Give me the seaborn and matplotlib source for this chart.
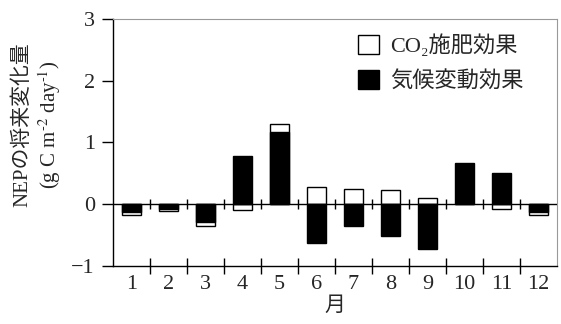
import pandas as pd
import seaborn as sns
import matplotlib.pyplot as plt
from matplotlib.patches import Patch

months = ["1", "2", "3", "4", "5", "6", "7", "8", "9", "10", "11", "12"]
co2_effect = [-0.05, -0.04, -0.06, -0.10, 0.13, 0.27, 0.24, 0.23, 0.10, 0.00, -0.085, -0.05]
climate_effect = [-0.13, -0.08, -0.29, 0.78, 1.16, -0.64, -0.355, -0.52, -0.73, 0.66, 0.50, -0.13]
yticks = [-1, 0, 1, 2, 3]

# white bar is stacked on the black one when both have the same sign
stacked = [c + k if c * k > 0 else c for c, k in zip(co2_effect, climate_effect)]
df = pd.DataFrame({"月": months, "co2": stacked, "climate": climate_effect})

sns.set_style("ticks")
plt.rcParams["font.family"] = ["Liberation Serif", "Noto Sans CJK JP", "DejaVu Sans"]
plt.rcParams["mathtext.fontset"] = "stix"

fig, ax = plt.subplots(figsize=(5.61, 3.24), dpi=100)
fig.subplots_adjust(left=0.2014, right=0.9929, top=0.9414, bottom=0.18)

sns.barplot(data=df, x="月", y="co2", color="white", edgecolor="black",
            linewidth=1, width=0.52, saturation=1, ax=ax, zorder=2)
sns.barplot(data=df, x="月", y="climate", color="black", edgecolor="black",
            linewidth=1, width=0.52, saturation=1, ax=ax, zorder=3)

ax.axhline(0, color="black", lw=1, zorder=4)
bounds = [i + 0.5 for i in range(len(months) - 1)]
ax.vlines(bounds, -0.075, 0.075, color="black", lw=1, zorder=4)

ax.set_xlim(-0.5, len(months) - 0.5)
ax.set_ylim(-1, 3)
ax.set_yticks(yticks)
ax.set_yticklabels([str(v) if v >= 0 else "\u2212" + str(-v) for v in yticks])
ax.set_xticks(bounds, minor=True)
ax.tick_params(axis="x", which="major", length=0, pad=7, labelsize=16)
ax.tick_params(axis="x", which="minor", direction="inout", length=12, width=1, color="black")
ax.tick_params(axis="y", direction="out", length=8, width=1, pad=5, labelsize=16, color="black")

for side in ["top", "right"]:
    ax.spines[side].set_color("#999999")
    ax.spines[side].set_linewidth(0.8)
for side in ["left", "bottom"]:
    ax.spines[side].set_color("black")
    ax.spines[side].set_linewidth(1)

ax.set_xlabel("月", fontsize=15, labelpad=2)
ax.set_ylabel("NEPの将来変化量\n(g C m$^{\\text{-2}}$ day$^{\\text{-1}}$)", fontsize=15,
              linespacing=1.2)
ax.yaxis.set_label_coords(-0.113, 0.57)

handles = [Patch(facecolor="white", edgecolor="black", lw=1, label="CO\u2082施肥効果"),
           Patch(facecolor="black", edgecolor="black", lw=1, label="気候変動効果")]
ax.legend(handles=handles, frameon=False, fontsize=16, loc="upper right",
          bbox_to_anchor=(0.955, 0.99), handlelength=0.95, handleheight=0.95,
          handletextpad=0.5, labelspacing=0.55, borderaxespad=0.2)

fig.savefig("out.png", dpi=100)
